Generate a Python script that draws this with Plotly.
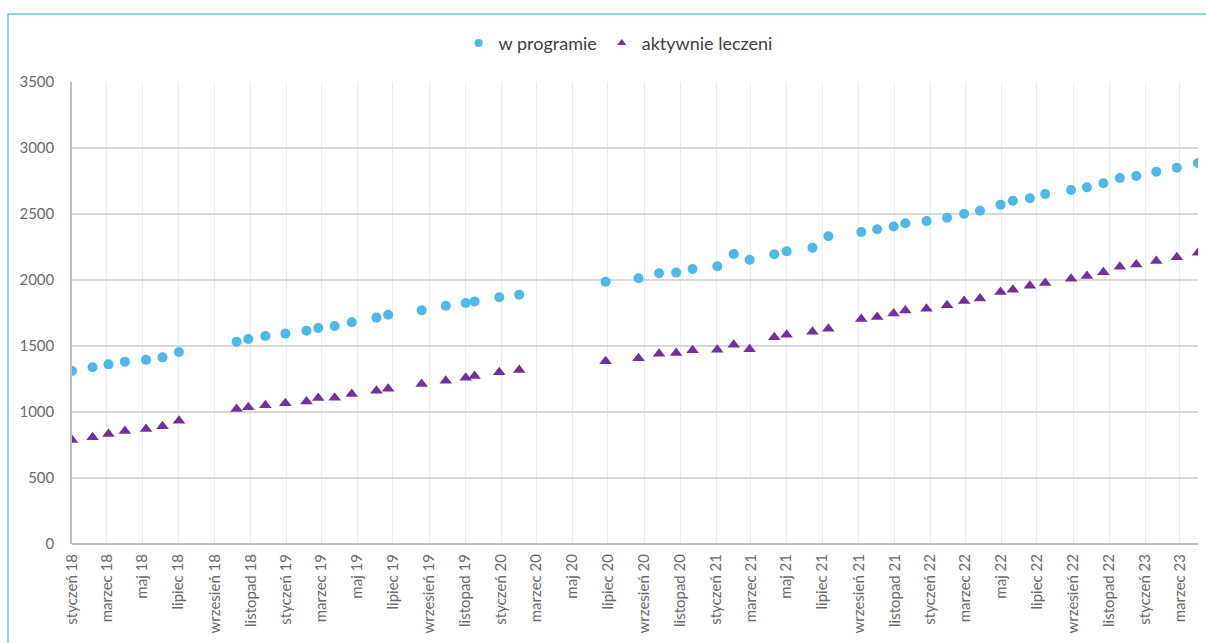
import plotly.graph_objects as go

# Measurement dates and counts
dates = [
    "2018-01-01", "2018-02-05", "2018-03-04", "2018-04-01", "2018-05-07", "2018-06-04", "2018-07-02",
    "2018-10-08", "2018-10-28", "2018-11-26", "2018-12-30", "2019-02-04", "2019-02-24", "2019-03-24",
    "2019-04-22", "2019-06-03", "2019-06-23", "2019-08-19", "2019-09-29", "2019-11-02", "2019-11-17",
    "2019-12-29", "2020-02-01", "2020-06-27", "2020-08-22", "2020-09-26", "2020-10-25", "2020-11-22",
    "2021-01-03", "2021-01-31", "2021-02-27", "2021-04-10", "2021-05-01", "2021-06-14", "2021-07-11",
    "2021-09-05", "2021-10-02", "2021-10-30", "2021-11-19", "2021-12-25", "2022-01-29", "2022-02-27",
    "2022-03-26", "2022-04-30", "2022-05-21", "2022-06-19", "2022-07-15", "2022-08-28", "2022-09-24",
    "2022-10-22", "2022-11-19", "2022-12-17", "2023-01-20", "2023-02-24", "2023-04-01",
]

w_programie = [
    1310, 1339, 1361, 1381, 1395, 1414, 1455,
    1533, 1553, 1576, 1594, 1615, 1636, 1652,
    1680, 1715, 1737, 1770, 1805, 1826, 1838,
    1869, 1889, 1987, 2013, 2051, 2056, 2083,
    2104, 2197, 2154, 2195, 2217, 2245, 2331,
    2364, 2384, 2405, 2430, 2447, 2472, 2502,
    2525, 2571, 2601, 2619, 2652, 2682, 2702,
    2733, 2773, 2788, 2821, 2851, 2886,
]

aktywnie_leczeni = [
    788, 808, 833, 856, 871, 892, 934,
    1023, 1036, 1051, 1066, 1080, 1106, 1108,
    1136, 1161, 1177, 1212, 1237, 1260, 1273,
    1301, 1318, 1384, 1407, 1442, 1447, 1467,
    1472, 1510, 1475, 1566, 1586, 1608, 1631,
    1705, 1720, 1747, 1768, 1783, 1808, 1841,
    1859, 1909, 1927, 1957, 1977, 2010, 2030,
    2058, 2101, 2117, 2144, 2172, 2207,
]

# Axis ticks every two months
month_names = {1: "styczeń", 3: "marzec", 5: "maj", 7: "lipiec", 9: "wrzesień", 11: "listopad"}
tick_vals = []
tick_text = []
for year in range(2018, 2024):
    for m in (1, 3, 5, 7, 9, 11):
        if (year, m) > (2023, 3):
            break
        tick_vals.append(f"{year}-{m:02d}-01")
        tick_text.append(f"{month_names[m]} {year % 100:02d}")

y_ticks = [0, 500, 1000, 1500, 2000, 2500, 3000, 3500]

BLUE = "#4CB9EA"
PURPLE = "#7030A0"
GREY_TEXT = "#6A6A6A"
FONT = "Lato, 'Open Sans', sans-serif"

fig = go.Figure()
fig.add_trace(go.Scatter(
    x=dates, y=w_programie, mode="markers", name="w programie", showlegend=False,
    marker=dict(symbol="circle", size=10, color=BLUE),
))
fig.add_trace(go.Scatter(
    x=dates, y=aktywnie_leczeni, mode="markers", name="aktywnie leczeni", showlegend=False,
    marker=dict(symbol="triangle-up", size=11, color=PURPLE),
))
# legend entries with smaller symbols
fig.add_trace(go.Scatter(
    x=[None], y=[None], mode="markers", name="w programie",
    marker=dict(symbol="circle", size=8, color=BLUE),
))
fig.add_trace(go.Scatter(
    x=[None], y=[None], mode="markers", name="aktywnie leczeni",
    marker=dict(symbol="triangle-up", size=8, color=PURPLE),
))

fig.update_layout(
    width=1206, height=643,
    margin=dict(l=72, r=8, t=82, b=99),
    paper_bgcolor="white", plot_bgcolor="white",
    font=dict(family=FONT, color=GREY_TEXT, size=14),
    showlegend=True,
    legend=dict(
        orientation="h", x=0.485, xanchor="center", y=1.084, yanchor="middle",
        font=dict(family=FONT, size=18, color="#404040"),
        itemwidth=30, traceorder="normal",
    ),
    xaxis=dict(
        type="date",
        range=["2018-01-01", "2023-04-01"],
        tickmode="array", tickvals=tick_vals, ticktext=tick_text,
        tickangle=-90,
        tickfont=dict(family=FONT, size=15, color=GREY_TEXT),
        showgrid=True, gridcolor="#ECECEC", gridwidth=1,
        showline=False, zeroline=False, ticks="", ticklabelstandoff=6,
    ),
    yaxis=dict(
        range=[0, 3500],
        tickvals=y_ticks,
        tickfont=dict(family=FONT, size=15, color=GREY_TEXT),
        showgrid=True, gridcolor="#D9D9D9", gridwidth=1.5,
        showline=True, linecolor="#BFBFBF", linewidth=1.5,
        zeroline=True, zerolinecolor="#BFBFBF", zerolinewidth=1.5,
        ticks="", ticklabelstandoff=13,
    ),
    shapes=[
        # chart area frame
        dict(type="rect", xref="paper", yref="paper",
             x0=(8 - 72) / 1126, x1=1.2, y0=-0.5, y1=(544 - 14) / 462,
             line=dict(color="#6EC1EA", width=1.5), fillcolor="rgba(0,0,0,0)", layer="below"),
    ],
)

fig.write_html("out.html")
